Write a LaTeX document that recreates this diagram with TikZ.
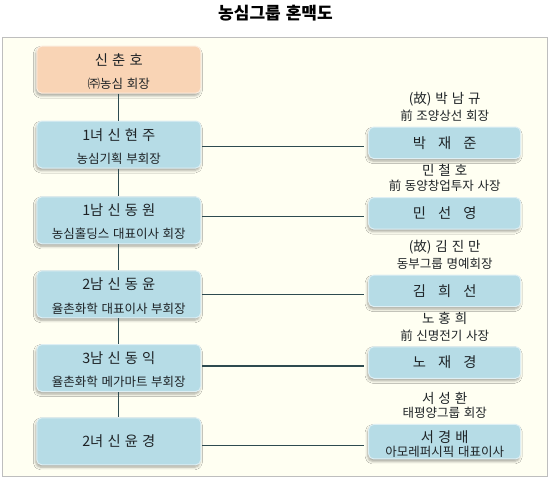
\documentclass[tikz,border=0pt]{standalone}
\usepackage{fontspec}
\setmainfont[WordSpace=1.3]{Noto Sans CJK KR}
\usetikzlibrary{shadows.blur}
\definecolor{bgivory}{HTML}{FFFFF2}
\definecolor{framegray}{HTML}{BEBEBE}
\definecolor{boxblue}{HTML}{B6DCE6}
\definecolor{boxpeach}{HTML}{F9D4B5}
\definecolor{linecol}{HTML}{2E4B50}
\definecolor{txtcol}{HTML}{1E2326}
\begin{document}
\begin{tikzpicture}[x=1pt,y=-1pt,
  basebox/.style={rounded corners=5pt, line width=1pt, inner sep=0pt,
    blur shadow={shadow xshift=-1pt, shadow yshift=-2.5pt, shadow blur radius=2.5pt, shadow opacity=35}},
  lbox/.style={basebox, minimum width=164pt, minimum height=47pt, fill=boxblue, draw=white!55!boxblue},
  pbox/.style={basebox, minimum width=164pt, minimum height=47pt, fill=boxpeach, draw=white!55!boxpeach},
  rbox/.style={basebox, minimum width=152pt, minimum height=31.5pt, fill=boxblue, draw=white!55!boxblue},
  nametxt/.style={font=\fontsize{14.3}{16}\selectfont, text=txtcol, inner sep=0pt},
  subtxt/.style={font=\fontsize{12.5}{14}\selectfont, text=txtcol, inner sep=0pt},
  toptxt/.style={font=\fontsize{13.5}{15}\selectfont, text=txtcol, inner sep=0pt},
  conn/.style={draw=linecol, line width=1.1pt}
]
\useasboundingbox (0,0) rectangle (551,479);
\fill[white] (0,0) rectangle (551,479);
\node[font=\fontsize{17}{19}\selectfont\bfseries, text=black] (title) at (275.5,13) {농심그룹 혼맥도};
\draw[fill=bgivory, draw=framegray, line width=1.3pt] (2.7,37.3) rectangle (547.5,476.7);

% left column
\node[pbox] (l1) at (118.8,69.7) {};
\node[lbox] (l2) at (118.8,144.5) {};
\node[lbox] (l3) at (118.8,220.3) {};
\node[lbox] (l4) at (118.8,294.3) {};
\node[lbox] (l5) at (118.8,368) {};
\node[lbox] (l6) at (118.8,441.3) {};

% right column
\node[rbox] (r1) at (444.7,142.8) {};
\node[rbox] (r2) at (444.7,213.3) {};
\node[rbox] (r3) at (444.7,290.8) {};
\node[rbox] (r4) at (444.7,362.5) {};
\node[rbox, minimum height=34.5pt] (r5) at (444.7,441.7) {};

% vertical connectors
\draw[conn] (l1.south) -- (l2.north);
\draw[conn] (l2.south) -- (l3.north);
\draw[conn] (l3.south) -- (l4.north);
\draw[conn] (l4.south) -- (l5.north);
\draw[conn] (l5.south) -- (l6.north);

% horizontal connectors
\foreach \l/\r/\i in {l2/r1/1, l3/r2/2, l4/r3/3, l5/r4/4, l6/r5/5}{
  \coordinate (h\i) at ([yshift=-3.5pt]\r.west);
  \draw[conn, shorten <=0.7pt, shorten >=4pt] (h\i -| \l.east) -- (h\i);
}

% left texts
\node[nametxt] (l1n) at ([yshift=9.5pt]l1.center) {신 춘 호};
\node[subtxt] (l1s) at ([yshift=-14.3pt]l1.center) {㈜농심 회장};
\node[nametxt] (l2n) at ([yshift=9.5pt]l2.center) {1녀 신 현 주};
\node[subtxt] (l2s) at ([yshift=-14.5pt]l2.center) {농심기획 부회장};
\node[nametxt] (l3n) at ([yshift=10.5pt]l3.center) {1남 신 동 원};
\node[subtxt] (l3s) at ([yshift=-13.5pt]l3.center) {농심홀딩스 대표이사 회장};
\node[nametxt] (l4n) at ([yshift=10pt]l4.center) {2남 신 동 윤};
\node[subtxt] (l4s) at ([yshift=-14pt]l4.center) {율촌화학 대표이사 부회장};
\node[nametxt] (l5n) at ([yshift=10pt]l5.center) {3남 신 동 익};
\node[subtxt] (l5s) at ([yshift=-13.7pt]l5.center) {율촌화학 메가마트 부회장};
\node[nametxt] (l6n) at (l6.center) {2녀 신 윤 경};

% right texts
\node[nametxt] (r1n) at (r1.center) {박\hspace{12pt}재\hspace{12pt}준};
\node[nametxt] (r2n) at (r2.center) {민\hspace{12pt}선\hspace{12pt}영};
\node[nametxt] (r3n) at (r3.center) {김\hspace{12pt}희\hspace{12pt}선};
\node[nametxt] (r4n) at (r4.center) {노\hspace{12pt}재\hspace{12pt}경};
\node[nametxt] (r5n) at ([yshift=5pt]r5.center) {서 경 배};
\node[subtxt] (r5s) at ([yshift=-10pt]r5.center) {아모레퍼시픽 대표이사};

% labels above right boxes
\node[toptxt] (a1) at ([yshift=27pt]r1.north) {(故) 박 남 규};
\node[subtxt] (b1) at ([yshift=11pt]r1.north) {前 조양상선 회장};
\node[toptxt] (a2) at ([yshift=27pt]r2.north) {민 철 호};
\node[subtxt] (b2) at ([yshift=11pt]r2.north) {前 동양창업투자 사장};
\node[toptxt] (a3) at ([yshift=27pt]r3.north) {(故) 김 진 만};
\node[subtxt] (b3) at ([yshift=11pt]r3.north) {동부그룹 명예회장};
\node[toptxt] (a4) at ([yshift=28pt]r4.north) {노 홍 희};
\node[subtxt] (b4) at ([yshift=11pt]r4.north) {前 신명전기 사장};
\node[toptxt] (a5) at ([yshift=25.5pt]r5.north) {서 성 환};
\node[subtxt] (b5) at ([yshift=11pt]r5.north) {태평양그룹 회장};
\end{tikzpicture}
\end{document}
